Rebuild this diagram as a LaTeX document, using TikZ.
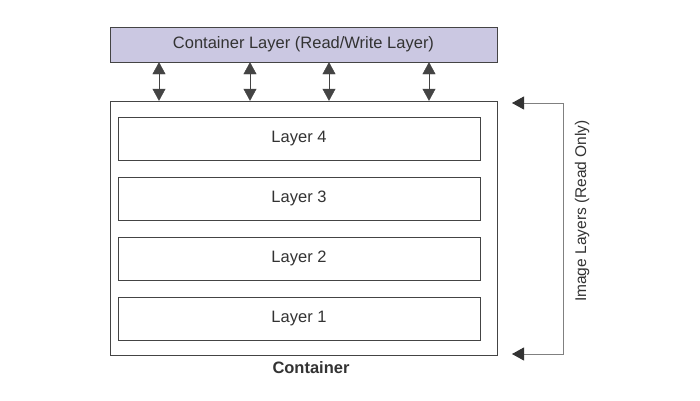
\documentclass[tikz,border=0pt]{standalone}
\usepackage{fontspec}
\setmainfont{Liberation Sans}
\usetikzlibrary{arrows.meta}
\definecolor{rwfill}{HTML}{CBC8E2}
\definecolor{edgegray}{HTML}{444444}
\definecolor{textgray}{HTML}{333333}
\tikzset{
	layerbox/.style={draw=edgegray,fill=white,minimum width=362pt,minimum height=43pt,inner sep=0pt,
		text=textgray,font=\fontsize{16.5}{18}\selectfont},
	rwarrow/.style={edgegray,{Triangle[length=12pt,width=13pt]}-{Triangle[length=12pt,width=13pt]}},
	rotarrow/.style={draw=gray,line width=0.9pt,
		{Triangle[length=12pt,width=13pt,color=textgray]}-{Triangle[length=12pt,width=13pt,color=textgray]}}
}
\begin{document}
\begin{tikzpicture}[x=1pt,y=-1pt]
	\useasboundingbox[fill=white] (0,0) rectangle (700,400);
	% Read/write layer
	\node[draw=edgegray,fill=rwfill,minimum width=387pt,minimum height=35pt,inner sep=0pt,
		text=textgray,font=\fontsize{16.5}{18}\selectfont] (rw) at (303.5,44.5) {Container Layer (Read/Write Layer)};
	% Container
	\node[draw=edgegray,minimum width=387pt,minimum height=254pt,inner sep=0pt] (cont) at (303.5,228) {};
	\node[font=\bfseries\fontsize{16.5}{18}\selectfont,text=textgray] (contlabel) at (311,368) {Container};
	% Image layers
	\node[layerbox] (l4) at (299,138.5) {Layer 4};
	\node[layerbox] (l3) at (299,198.5) {Layer 3};
	\node[layerbox] (l2) at (299,258.5) {Layer 2};
	\node[layerbox] (l1) at (299,318.5) {Layer 1};
	% Arrows between the two
	\foreach \x [count=\i] in {159,250,329,429}{
		\coordinate (a\i) at (\x,0);
		\draw[rwarrow] (a\i |- rw.south) -- (a\i |- cont.north);
	}
	% Read only bracket
	\coordinate (rtop) at (512,103);
	\coordinate (rbot) at (512,354);
	\draw[rotarrow] (rtop) -- (563,103) -- (563,354) -- (rbot);
	\node[rotate=90,text=textgray,font=\fontsize{15.5}{17}\selectfont] (rolabel) at (582,211) {Image Layers (Read Only)};
\end{tikzpicture}
\end{document}
